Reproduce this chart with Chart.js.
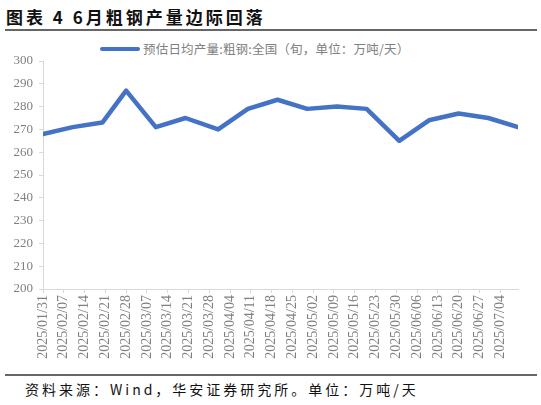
<!DOCTYPE html>
<html>
<head>
<meta charset="utf-8">
<script src="https://cdn.jsdelivr.net/npm/chart.js@4"></script>
<style>
  body { margin: 0; background: #fff; }
  #wrap { position: relative; width: 541px; height: 405px; overflow: hidden; }
  .title { position: absolute; left: 6px; top: 4px; font: bold 17px "Noto Sans CJK SC"; letter-spacing: 3px; color: #111; white-space: nowrap; }
  .rule { position: absolute; left: 5px; width: 532px; height: 2px; background: #666; }
  .legend { position: absolute; left: 100px; top: 39px; font: 12.5px "Noto Sans CJK SC"; color: #808080; white-space: nowrap; letter-spacing: 0.2px; }
  .legend .swatch { display: inline-block; width: 40px; height: 4px; border-radius: 2px; background: #4472C4; vertical-align: middle; margin-right: 3px; position: relative; top: -2px; }
  .source { position: absolute; left: 25px; top: 379px; font: 14px "Noto Sans CJK SC"; color: #111; white-space: nowrap; letter-spacing: 3px; }
  canvas { position: absolute; left: 0; top: 0; }
</style>
</head>
<body>
<div id="wrap">
  <div class="title">图表 4 6月粗钢产量边际回落</div>
  <div class="rule" style="top:29px"></div>
  <div class="legend"><span class="swatch"></span>预估日均产量:粗钢:全国（旬，单位：万吨/天）</div>
  <canvas id="chart" width="541" height="370"></canvas>
  <div class="rule" style="top:374px"></div>
  <div class="source">资料来源：Wind，华安证券研究所。单位：万吨/天</div>
</div>
<script>
// 旬度数据
const dates = ['2025-01-31', '2025-02-10', '2025-02-20', '2025-02-28', '2025-03-10', '2025-03-20',
  '2025-03-31', '2025-04-10', '2025-04-20', '2025-04-30', '2025-05-10', '2025-05-20',
  '2025-05-31', '2025-06-10', '2025-06-20', '2025-06-30', '2025-07-10'];
const output = [268, 271, 273, 287, 271, 275, 270, 279, 283, 279, 280, 279, 265, 274, 277, 275, 271];
const yTicks = { min: 200, max: 300, step: 10 };
const xTickDays = 7;

const DAY = 864e5;
const base = Date.parse(dates[0]);
const toDay = d => (Date.parse(d) - base) / DAY;
const pad = n => String(n).padStart(2, '0');
const fmt = v => {
  const d = new Date(base + v * DAY);
  return d.getUTCFullYear() + '/' + pad(d.getUTCMonth() + 1) + '/' + pad(d.getUTCDate());
};

const axisGray = '#d9d9d9';
const labelGray = '#808080';

new Chart(document.getElementById('chart'), {
  type: 'line',
  data: {
    datasets: [{
      label: '预估日均产量:粗钢:全国（旬，单位：万吨/天）',
      data: dates.map((d, i) => ({ x: toDay(d), y: output[i] })),
      borderColor: '#4472C4',
      backgroundColor: '#4472C4',
      borderWidth: 4.5,
      borderJoinStyle: 'round',
      borderCapStyle: 'round',
      pointRadius: 0,
      tension: 0
    }]
  },
  options: {
    responsive: false,
    animation: false,
    layout: { padding: { top: 61, right: 23, left: 0, bottom: 0 } },
    plugins: { legend: { display: false }, tooltip: { enabled: false } },
    scales: {
      x: {
        type: 'linear',
        min: 0,
        max: toDay(dates[dates.length - 1]),
        grid: { drawOnChartArea: false, drawTicks: true, tickLength: 4, color: axisGray },
        border: { color: axisGray, width: 1 },
        ticks: {
          stepSize: xTickDays,
          includeBounds: false,
          autoSkip: false,
          maxRotation: 90,
          minRotation: 90,
          padding: 2,
          color: labelGray,
          font: { family: 'Liberation Serif', size: 14 },
          callback: v => fmt(v)
        },
        afterFit: s => { s.height = 81; }
      },
      y: {
        min: yTicks.min,
        max: yTicks.max,
        grid: { drawOnChartArea: false, drawTicks: true, tickLength: 4, color: axisGray },
        border: { color: axisGray, width: 1 },
        ticks: {
          stepSize: yTicks.step,
          padding: 6,
          color: labelGray,
          font: { family: 'Liberation Serif', size: 13 }
        },
        afterFit: s => { s.width = 43; }
      }
    }
  }
});
</script>
</body>
</html>
